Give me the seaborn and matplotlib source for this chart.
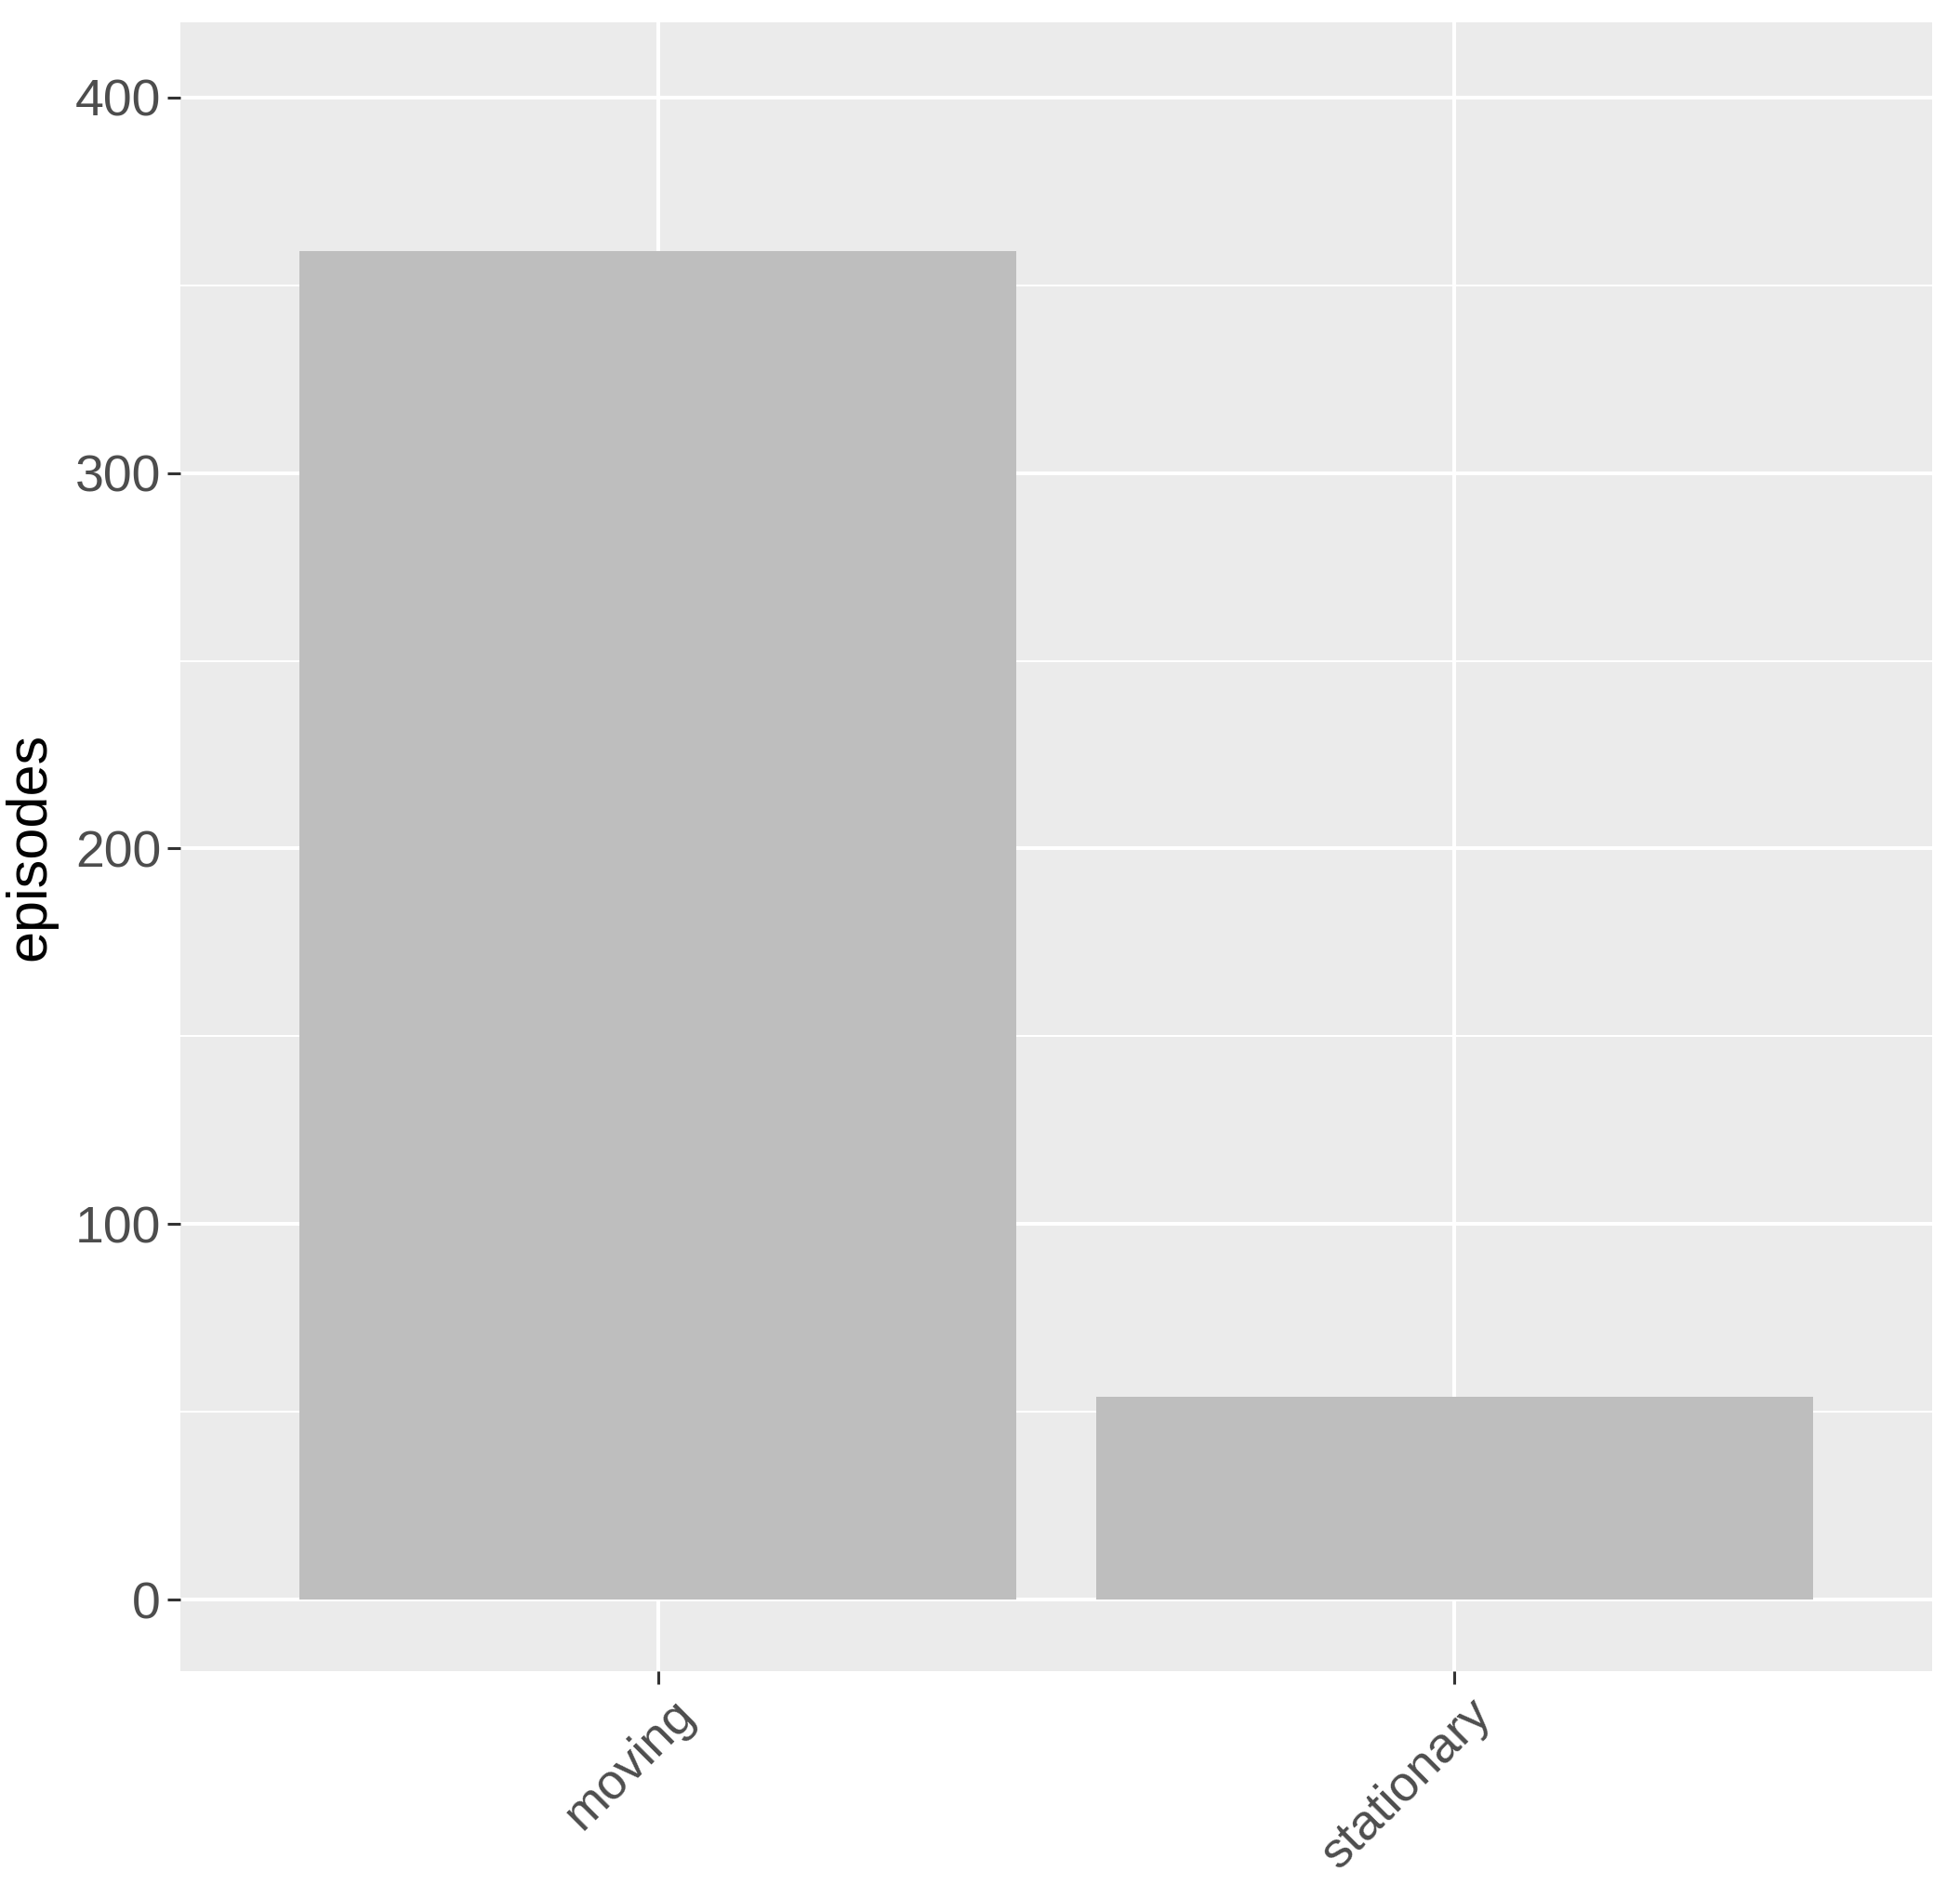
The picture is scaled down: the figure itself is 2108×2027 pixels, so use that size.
import matplotlib
matplotlib.use("Agg")
import matplotlib.pyplot as plt
import matplotlib.transforms as mtransforms
import seaborn as sns
import pandas as pd

# data
categories = ["moving", "stationary"]
episodes = [359, 54]

df = pd.DataFrame({"type": categories, "episodes": episodes})

sns.set_style("white")
plt.rcParams["font.family"] = ["Liberation Sans", "DejaVu Sans"]

fig = plt.figure(figsize=(21.08, 20.27), dpi=100)
ax = fig.add_axes([0.092, 0.1135, 0.8938, 0.8747])
ax.set_facecolor("#EBEBEB")

# grid like ggplot theme_gray
for v in [50, 150, 250, 350]:
    ax.axhline(v, color="white", lw=1.5, zorder=0)
for v in [0, 100, 200, 300, 400]:
    ax.axhline(v, color="white", lw=2.9, zorder=0)
for v in [0, 1]:
    ax.axvline(v, color="white", lw=2.9, zorder=0)

sns.barplot(x="type", y="episodes", data=df, order=categories,
            color="#BEBEBE", saturation=1, width=0.9, linewidth=0,
            ax=ax, zorder=2)

ax.set_xlim(-0.6, 1.6)
ax.set_ylim(-19, 420)
ax.set_yticks([0, 100, 200, 300, 400])
for s in ax.spines.values():
    s.set_visible(False)

ax.tick_params(axis="both", which="major", length=10, width=2.2, color="#333333",
               labelsize=40, labelcolor="#4D4D4D", pad=5)
ax.tick_params(axis="both", left=True, bottom=True)

# nudge rotated labels like ggplot's hjust=1
offset = mtransforms.ScaledTranslation(0.14, 0.0, fig.dpi_scale_trans)
for lab in ax.get_xticklabels():
    lab.set_rotation(45)
    lab.set_ha("right")
    lab.set_rotation_mode("anchor")
    lab.set_fontsize(39)
    lab.set_transform(lab.get_transform() + offset)

ax.set_xlabel("")
ax.set_ylabel("episodes", fontsize=44, color="black", labelpad=14)

plt.savefig("out.png", dpi=100)
